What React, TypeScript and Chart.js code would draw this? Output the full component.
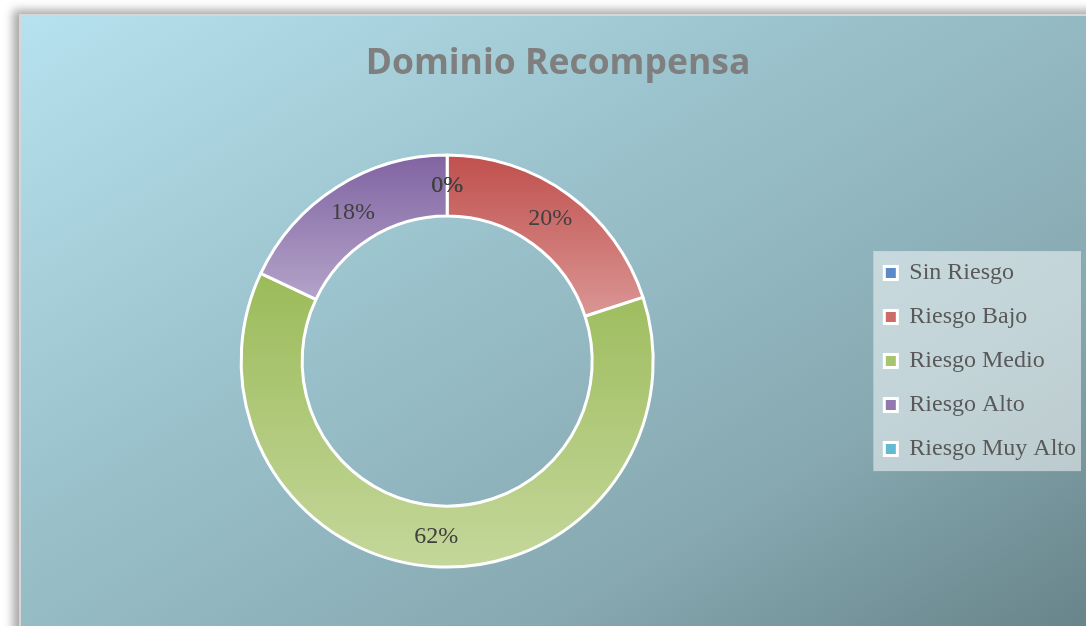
import React, { useEffect, useRef } from 'react';
import { Chart, registerables } from 'chart.js';

Chart.register(...registerables);

const TITLE = 'Dominio Recompensa';
const CATEGORIES = ['Sin Riesgo', 'Riesgo Bajo', 'Riesgo Medio', 'Riesgo Alto', 'Riesgo Muy Alto'];
const PERCENTAGES = [0, 20, 62, 18, 0];
const BASE_COLORS = ['#4F81BD', '#C0504D', '#9BBB59', '#8064A2', '#4BACC6'];
const LIGHT_COLORS = ['#95B3D7', '#DA9694', '#C4D79B', '#B4A3C9', '#92CDDC'];
const LEGEND_COLORS = ['#5B8BC6', '#CD6B68', '#A9C46F', '#9179B0', '#63BBD2'];

const OUTER_RADIUS = 206;
const CUTOUT = '70.4%';

function sliceGradient(ctx: any) {
  const i = ctx.dataIndex;
  if (i === undefined) return BASE_COLORS[0];
  const chart = ctx.chart;
  const a = chart.chartArea;
  if (!a) return BASE_COLORS[i];
  const cx = (a.left + a.right) / 2;
  const cy = (a.top + a.bottom) / 2;
  const R = OUTER_RADIUS;
  const r = R * 0.704;
  const total = PERCENTAGES.reduce((s, v) => s + v, 0);
  let before = 0;
  for (let k = 0; k < i; k++) before += PERCENTAGES[k];
  const v = PERCENTAGES[i];
  if (v <= 0) return BASE_COLORS[i];
  const s = -Math.PI / 2 + (2 * Math.PI * before) / total;
  const e = s + (2 * Math.PI * v) / total;
  const ys = [cy + R * Math.sin(s), cy + R * Math.sin(e), cy + r * Math.sin(s), cy + r * Math.sin(e)];
  const contains = (ang: number) => {
    for (let t = ang - 4 * Math.PI; t <= ang + 4 * Math.PI; t += 2 * Math.PI) {
      if (t >= s && t <= e) return true;
    }
    return false;
  };
  if (contains(Math.PI / 2)) ys.push(cy + R);
  if (contains(-Math.PI / 2)) ys.push(cy - R);
  const y0 = Math.min(...ys);
  const y1 = Math.max(...ys);
  const g = chart.ctx.createLinearGradient(0, y0, 0, y1);
  g.addColorStop(0, BASE_COLORS[i]);
  g.addColorStop(1, LIGHT_COLORS[i]);
  return g;
}

const legendBackground = {
  id: 'legendBackground',
  beforeDraw(chart: any) {
    const lg = chart.legend;
    if (!lg || !lg.legendHitBoxes || !lg.legendHitBoxes.length) return;
    const hb = lg.legendHitBoxes;
    const first = hb[0];
    const last = hb[hb.length - 1];
    const left = first.left - 11;
    const top = first.top - 10;
    const right = lg.right - 5;
    const bottom = last.top + last.height + 10;
    const c = chart.ctx;
    c.save();
    c.fillStyle = 'rgba(255,255,255,0.5)';
    c.fillRect(left, top, right - left, bottom - top);
    c.restore();
  },
};

const sliceLabels = {
  id: 'sliceLabels',
  afterDatasetsDraw(chart: any) {
    const meta = chart.getDatasetMeta(0);
    const c = chart.ctx;
    c.save();
    c.font = '24px "Liberation Serif"';
    c.fillStyle = '#404040';
    c.textAlign = 'center';
    c.textBaseline = 'middle';
    meta.data.forEach((arc: any, i: number) => {
      const p = arc.getCenterPoint();
      c.fillText(PERCENTAGES[i] + '%', p.x, p.y);
    });
    c.restore();
  },
};

export default function App() {
  const ref = useRef<HTMLCanvasElement>(null);
  useEffect(() => {
    document.body.style.margin = '0';
    const chart = new Chart(ref.current as HTMLCanvasElement, {
      type: 'doughnut',
      data: {
        labels: CATEGORIES,
        datasets: [
          {
            data: PERCENTAGES,
            backgroundColor: sliceGradient as any,
            borderColor: '#FFFFFF',
            borderWidth: 3,
            radius: OUTER_RADIUS,
            cutout: CUTOUT,
          } as any,
        ],
      },
      options: {
        responsive: false,
        animation: false,
        events: [],
        layout: { padding: { left: 30, right: 0, top: 20, bottom: 0 } },
        plugins: {
          tooltip: { enabled: false },
          title: {
            display: true,
            text: TITLE,
            color: '#7F7F7F',
            font: { family: '"Open Sans"', size: 35.5, weight: 'bold', lineHeight: 1.2 },
            padding: { top: 22.5, bottom: 11.1 },
          },
          legend: {
            display: true,
            position: 'right',
            fullSize: false,
            labels: {
              font: { family: '"Liberation Serif"', size: 24 },
              color: '#595959',
              boxWidth: 13,
              boxHeight: 13,
              padding: 20,
              generateLabels: () =>
                CATEGORIES.map((t, i) => ({
                  text: t,
                  fillStyle: LEGEND_COLORS[i],
                  strokeStyle: '#FFFFFF',
                  fontColor: '#595959',
                  lineWidth: 3,
                  hidden: false,
                  index: i,
                  datasetIndex: 0,
                })),
            },
          },
        },
      } as any,
      plugins: [legendBackground, sliceLabels],
    });
    return () => chart.destroy();
  }, []);

  return (
    <div style={{ position: 'fixed', left: 0, top: 0, width: 1086, height: 626, overflow: 'hidden', background: '#FFFFFF' }}>
      <div
        style={{
          position: 'absolute',
          left: 19,
          top: 14,
          width: 1090,
          height: 660,
          boxSizing: 'border-box',
          border: '2px solid #D6D6D6',
          background: 'linear-gradient(to bottom right, #B6E1EE 0%, #9CC4CE 35%, #87A9B1 70%, #627E83 100%)',
          boxShadow: '-3px -1px 9px 3px rgba(0,0,0,0.35)',
        }}
      />
      <canvas ref={ref} width={1086} height={626} style={{ position: 'absolute', left: 0, top: 0, width: 1086, height: 626 }} />
    </div>
  );
}
